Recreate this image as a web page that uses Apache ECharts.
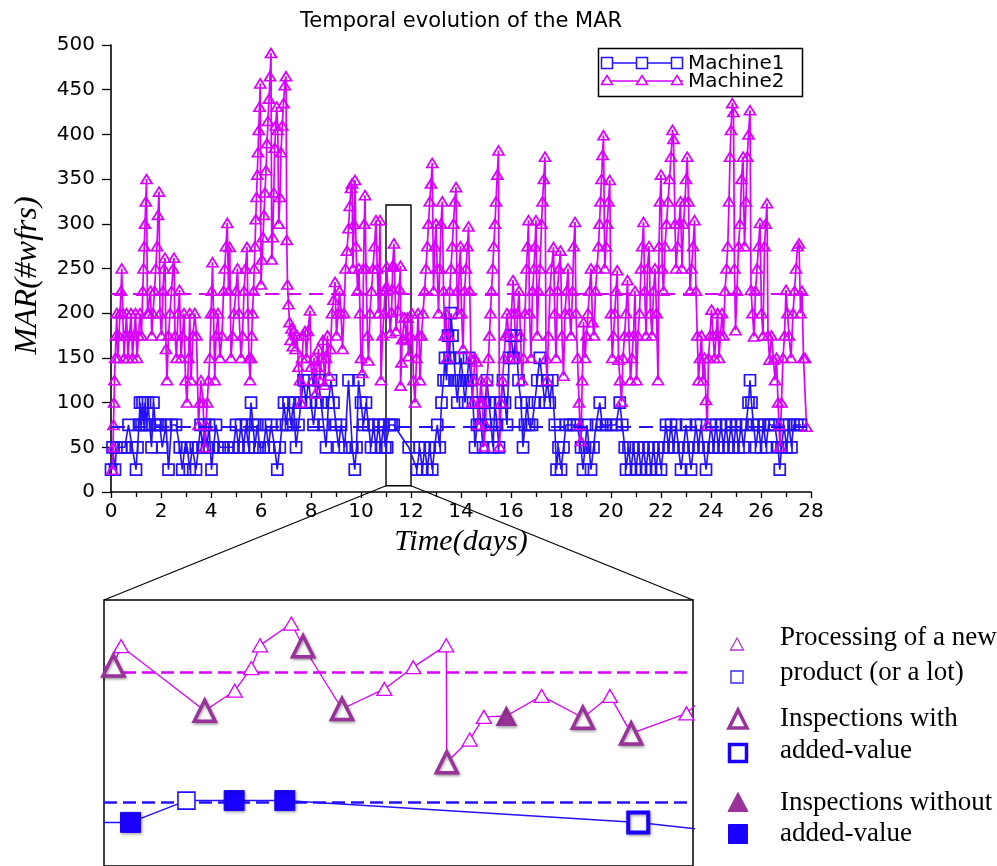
<!DOCTYPE html>
<html><head><meta charset="utf-8">
<script src="https://cdn.jsdelivr.net/npm/echarts@6/dist/echarts.min.js"></script>
<style>html,body{margin:0;padding:0;background:#fff}#c{width:997px;height:866px}</style>
</head><body><div id="c"></div>
<script>
// ---------------- DATA ----------------
const chartTitle = 'Temporal evolution of the MAR';
const seriesNames = ['Machine1', 'Machine2'];
const meanMachine1 = 73;
const meanMachine2 = 222;
const zoomWindow = [11, 12];      // days shown in the inset
const zoomValueRange = [7, 321];  // MAR range of the zoom rectangle
const insetValueRange = [0, 305];

// Machine2 (magenta triangles) [day, MAR]
const m2Part1 = [[0.05,25],[0.08,50],[0.1,75],[0.12,100],[0.14,125],[0.17,150],[0.2,175],[0.23,200],[0.27,150],[0.32,175],[0.36,200],[0.4,225],[0.43,250],[0.47,200],[0.52,150],[0.57,175],[0.62,200],[0.68,150],[0.74,175],[0.8,200],[0.86,150],[0.92,175],[0.98,200],[1.04,150],[1.1,175],[1.16,200],[1.22,175],[1.27,225],[1.3,250],[1.33,275],[1.36,300],[1.39,325],[1.42,350],[1.46,200],[1.52,200],[1.58,225],[1.63,175],[1.68,200],[1.74,225],[1.79,250],[1.84,275],[1.88,310],[1.92,336],[1.96,200],[2.02,175],[2.08,225],[2.12,250],[2.16,262],[2.2,160],[2.24,125],[2.3,175],[2.36,200],[2.42,225],[2.48,250],[2.52,262],[2.56,175],[2.62,150],[2.68,200],[2.74,226],[2.8,150],[2.86,175],[2.92,200],[2.98,125],[3.04,100],[3.1,150],[3.15,200],[3.2,125],[3.28,175],[3.35,200],[3.42,175],[3.5,75],[3.55,100],[3.6,125],[3.68,100],[3.75,50],[3.8,75],[3.85,100],[3.9,125],[3.95,150],[4.0,200],[4.03,225],[4.06,257],[4.1,200],[4.15,125],[4.2,175],[4.28,200],[4.36,150],[4.44,175],[4.5,225],[4.55,250],[4.6,275],[4.65,301],[4.7,225],[4.75,274],[4.8,150],[4.86,175],[4.92,200],[5.0,225],[5.06,250],[5.12,200],[5.2,150],[5.26,175],[5.32,225],[5.38,250],[5.44,274],[5.48,200],[5.52,150],[5.56,125]];
const m2Part2 = [[5.6,150],[5.63,175],[5.66,200],[5.7,225],[5.73,250],[5.76,275],[5.79,305],[5.82,330],[5.85,355],[5.88,380],[5.91,405],[5.94,431],[5.97,457],[6.0,232],[6.04,260],[6.08,285],[6.12,310],[6.16,335],[6.2,360],[6.24,390],[6.28,415],[6.32,440],[6.36,465],[6.4,491],[6.43,260],[6.47,285],[6.51,335],[6.55,385],[6.59,410],[6.63,431],[6.67,405],[6.71,300],[6.76,330],[6.8,380],[6.85,410],[6.9,435],[6.95,455],[7.0,465],[7.03,282],[7.06,232],[7.1,210],[7.14,190],[7.18,170],[7.22,183],[7.27,163],[7.32,180],[7.38,160],[7.44,175],[7.5,140],[7.56,125],[7.6,100],[7.64,150],[7.7,175],[7.76,180],[7.82,150],[7.88,180],[7.96,203],[8.0,140],[8.06,125],[8.12,150],[8.18,110],[8.24,140],[8.3,160],[8.36,125],[8.42,150],[8.48,170],[8.54,120],[8.6,150],[8.66,175],[8.72,130],[8.78,160],[8.84,200],[8.9,215],[8.96,235],[9.02,175],[9.08,200],[9.14,225],[9.2,200],[9.26,160],[9.32,200],[9.38,250],[9.44,270],[9.5,295],[9.55,320],[9.6,340],[9.64,345],[9.68,250],[9.72,300],[9.76,349],[9.8,275],[9.86,225],[9.92,250],[9.96,200],[10.0,150],[10.05,133],[10.1,250],[10.13,300],[10.16,332],[10.2,250],[10.26,175],[10.3,147],[10.36,200],[10.42,225],[10.48,250],[10.54,275],[10.6,304],[10.65,250],[10.7,200],[10.76,304],[10.8,125],[10.86,175],[10.92,200],[10.96,225]];
// Machine2 inside the zoom window
const m2InsetDays = [11.016,11.029,11.171,11.222,11.250,11.265,11.318,11.338,11.404,11.476,11.525,11.581,11.582,11.621,11.645,11.683,11.743,11.813,11.859,11.895,11.989];
const m2InsetVals = [230,252,178,201,227,253,278,252,180,203,228,253,119,145,171,172,195,170,195,152,175];
const m2InsetKind = ['big','small','big','small','small','small','small','big','big','small','small','small','big','small','small','filled','small','big','small','big','small'];
const m2Part3 = [[12.03,200],[12.1,125],[12.16,100],[12.22,150],[12.28,200],[12.32,175],[12.36,125],[12.42,175],[12.48,200],[12.54,225],[12.6,250],[12.65,275],[12.7,300],[12.75,325],[12.8,345],[12.85,368],[12.9,225],[12.95,275],[13.0,300],[13.05,250],[13.1,200],[13.15,250],[13.2,300],[13.25,325],[13.3,225],[13.35,175],[13.4,200],[13.45,150],[13.5,175],[13.55,225],[13.6,250],[13.65,275],[13.7,300],[13.75,325],[13.8,341],[13.84,225],[13.88,200],[13.93,250],[13.98,275],[14.02,200],[14.08,160],[14.14,225],[14.2,250],[14.26,275],[14.3,297],[14.35,225],[14.4,150],[14.46,100],[14.5,125],[14.56,150],[14.62,146],[14.68,75],[14.74,100],[14.8,125],[14.86,100],[14.92,51],[14.98,75],[15.04,125],[15.1,150],[15.14,175],[15.18,200],[15.22,225],[15.27,250],[15.31,275],[15.36,300],[15.4,325],[15.45,355],[15.5,382],[15.54,51],[15.6,100],[15.66,125],[15.72,150],[15.78,175],[15.84,200],[15.9,178],[15.96,150],[16.02,200],[16.08,237],[16.14,200],[16.2,150],[16.26,200],[16.32,225],[16.38,175],[16.44,125],[16.5,150],[16.56,200],[16.62,250],[16.66,275],[16.7,304],[16.74,200],[16.8,150],[16.86,225],[16.92,250],[16.96,275],[17.0,304],[17.05,175],[17.1,225],[17.16,250],[17.22,300],[17.26,325],[17.31,350],[17.36,375],[17.4,150],[17.44,125],[17.5,175],[17.56,225],[17.62,250],[17.7,274],[17.75,200],[17.8,150],[17.86,225],[17.92,250],[17.98,270],[18.04,175],[18.1,130],[18.16,200],[18.22,225],[18.28,250],[18.34,200],[18.4,175],[18.46,225],[18.51,275],[18.56,302],[18.6,200],[18.66,150],[18.72,100],[18.76,75],[18.8,57],[18.85,125],[18.9,190],[18.96,150],[19.02,175],[19.08,200],[19.14,225],[19.2,250],[19.26,190],[19.32,175]];
const m2Part4 = [[19.38,225],[19.44,250],[19.5,275],[19.54,300],[19.58,325],[19.62,350],[19.66,377],[19.7,399],[19.75,250],[19.8,275],[19.85,300],[19.9,325],[19.95,349],[20.0,200],[20.05,150],[20.1,175],[20.15,200],[20.2,225],[20.25,248],[20.3,148],[20.36,125],[20.42,101],[20.48,150],[20.54,175],[20.6,200],[20.66,237],[20.72,175],[20.78,125],[20.84,150],[20.9,175],[20.96,225],[21.02,125],[21.08,175],[21.14,200],[21.2,250],[21.25,275],[21.3,302],[21.35,225],[21.4,175],[21.46,250],[21.52,275],[21.58,200],[21.64,175],[21.7,225],[21.76,250],[21.82,200],[21.88,125],[21.92,275],[21.96,325],[22.0,355],[22.05,250],[22.1,225],[22.16,275],[22.22,300],[22.28,325],[22.34,350],[22.4,375],[22.46,405],[22.5,395],[22.56,300],[22.6,250],[22.66,275],[22.72,300],[22.78,325],[22.84,250],[22.9,300],[22.96,325],[23.0,350],[23.05,375],[23.1,325],[23.16,225],[23.22,250],[23.28,275],[23.34,304],[23.4,225],[23.45,175],[23.5,125],[23.56,150],[23.62,175],[23.68,125],[23.74,150],[23.8,103],[23.85,75],[23.9,150],[23.96,175],[24.02,204],[24.08,175],[24.14,150],[24.2,175],[24.26,200],[24.32,150],[24.38,175],[24.44,200],[24.5,175],[24.56,225],[24.62,250],[24.67,275],[24.72,325],[24.76,375],[24.8,405],[24.85,435],[24.9,425],[24.94,250],[24.98,181],[25.04,225],[25.1,275],[25.16,300],[25.22,350],[25.28,375],[25.34,275],[25.4,325],[25.45,375],[25.5,400],[25.56,427],[25.6,226],[25.66,200],[25.72,174],[25.78,225],[25.84,250],[25.9,275],[25.96,301],[26.02,200],[26.08,175],[26.14,275],[26.19,300],[26.24,323],[26.28,175],[26.34,148],[26.42,175],[26.5,148],[26.56,125],[26.62,150],[26.68,100],[26.72,75],[26.76,51],[26.82,100],[26.88,150],[26.94,175],[27.0,226],[27.06,200],[27.12,175],[27.2,150],[27.28,200],[27.34,225],[27.4,250],[27.46,275],[27.52,278],[27.58,200],[27.64,225],[27.7,150],[27.76,150],[27.82,73]];

// Machine1 (blue squares) [day, MAR]
const m1Part1 = [[0.0,25],[0.06,50],[0.16,25],[0.22,50],[0.4,50],[0.55,50],[0.7,75],[0.85,50],[1.0,25],[1.06,50],[1.12,75],[1.16,100],[1.22,75],[1.26,100],[1.32,75],[1.36,100],[1.42,75],[1.48,100],[1.55,75],[1.62,50],[1.7,100],[1.78,75],[1.86,75],[1.95,75],[2.05,50],[2.2,75],[2.3,25],[2.42,75],[2.6,75],[2.75,50],[2.85,25],[2.95,50],[3.05,50],[3.15,25],[3.25,50],[3.4,25],[3.5,50],[3.58,75],[3.66,50],[3.74,75],[3.84,50],[3.92,75],[4.02,25],[4.1,50],[4.2,75],[4.35,50],[4.5,50],[4.7,50],[4.9,50],[5.0,75],[5.1,50],[5.2,75],[5.3,50],[5.4,75],[5.5,50],[5.6,100],[5.68,75],[5.76,50],[5.85,75],[5.95,50],[6.1,50],[6.2,75],[6.3,50],[6.4,75],[6.55,50],[6.65,25],[6.75,50],[6.85,75],[6.92,100],[7.0,75],[7.1,100],[7.2,75],[7.3,100],[7.4,50],[7.5,75],[7.6,100],[7.7,125],[7.8,100],[7.9,125],[8.0,100],[8.1,75],[8.2,100],[8.3,125],[8.4,100],[8.5,75],[8.6,50],[8.7,100],[8.8,125],[8.9,100],[9.0,75],[9.1,50],[9.2,75],[9.35,50],[9.5,125],[9.65,50],[9.75,25],[9.82,50],[9.9,125],[10.0,100],[10.1,75],[10.2,100],[10.3,75],[10.4,50],[10.5,75],[10.6,50],[10.7,75],[10.8,50],[10.9,75],[10.97,50]];
const m1InsetDays = [11.045,11.140,11.221,11.307,11.907];
const m1InsetVals = [50,75,75,75,50];
const m1InsetKind = ['filled','small','filled','filled','big'];
const m1Part2 = [[12.24,25],[12.35,50],[12.45,25],[12.55,50],[12.65,25],[12.75,50],[12.85,25],[12.95,50],[13.05,75],[13.15,50],[13.22,100],[13.3,125],[13.36,150],[13.42,125],[13.48,175],[13.54,150],[13.6,200],[13.66,175],[13.72,150],[13.78,125],[13.85,100],[13.92,125],[14.0,150],[14.08,125],[14.16,100],[14.24,125],[14.32,150],[14.4,125],[14.48,100],[14.56,50],[14.64,75],[14.72,100],[14.8,75],[14.88,50],[14.96,100],[15.04,125],[15.12,100],[15.2,75],[15.28,50],[15.36,100],[15.44,75],[15.52,50],[15.6,100],[15.68,125],[15.76,100],[15.84,75],[15.92,150],[16.0,175],[16.1,150],[16.2,175],[16.3,125],[16.4,100],[16.48,50],[16.56,75],[16.64,100],[16.72,75],[16.84,75],[16.95,100],[17.05,125],[17.15,150],[17.25,125],[17.35,100],[17.45,125],[17.55,100],[17.65,125],[17.75,75],[17.82,25],[17.9,50],[18.0,25],[18.1,50],[18.2,75],[18.35,75],[18.5,75],[18.65,75],[18.8,50],[18.88,25],[18.96,50],[19.04,75],[19.12,50],[19.2,25],[19.3,50],[19.4,75],[19.55,100],[19.65,75],[19.8,75],[20.0,75],[20.2,75],[20.35,100],[20.45,75],[20.55,50],[20.6,25],[20.7,50],[20.8,25],[20.9,50],[21.0,25],[21.1,50],[21.2,25],[21.3,50],[21.4,25],[21.5,50],[21.6,25],[21.7,50],[21.8,25],[21.9,50],[22.0,25],[22.1,50],[22.2,75],[22.3,50],[22.4,75],[22.5,50],[22.6,75],[22.7,50],[22.8,25],[22.9,50],[23.0,75],[23.1,50],[23.2,25],[23.3,50],[23.4,75],[23.5,50],[23.6,75],[23.7,50],[23.8,25],[23.9,50],[24.0,75],[24.1,50],[24.2,75],[24.3,50],[24.4,75],[24.5,50],[24.6,75],[24.7,50],[24.8,75],[24.9,50],[25.0,75],[25.1,50],[25.2,75],[25.3,50],[25.4,75],[25.5,100],[25.56,125],[25.62,100],[25.7,75],[25.8,50],[25.9,75],[26.0,50],[26.1,75],[26.2,50],[26.3,75],[26.4,75],[26.55,75],[26.68,50],[26.75,25],[26.82,50],[26.92,75],[27.02,50],[27.12,75],[27.22,50],[27.3,75],[27.45,75],[27.6,75]];

const legendLines = [['Processing of a new','product (or a lot)'],['Inspections with','added-value'],['Inspections without','added-value']];

// ---------------- BUILD ----------------
const BLUE = '#2410ff', MAG = '#d800ff', PURPLE = '#993399', FBLUE = '#1a00ff';
const zip = (d, v) => d.map((x, i) => [x, v[i]]);
const m1All = [...m1Part1, ...zip(m1InsetDays, m1InsetVals), ...m1Part2];
const m2All = [...m2Part1, ...m2Part2, ...zip(m2InsetDays, m2InsetVals), ...m2Part3, ...m2Part4];

const shadow = {shadowBlur: 3, shadowColor: 'rgba(0,0,0,0.35)', shadowOffsetX: 1, shadowOffsetY: 1.5};
const triStyle = {
  small: {symbolSize: [15, 13], itemStyle: {color: '#fff', borderColor: MAG, borderWidth: 1.3}},
  big: {symbolSize: [21, 21], itemStyle: Object.assign({color: '#fff', borderColor: PURPLE, borderWidth: 3.5}, shadow)},
  filled: {symbolSize: [20, 19], itemStyle: Object.assign({color: PURPLE, borderColor: PURPLE, borderWidth: 1}, shadow)}
};
const sqStyle = {
  small: {symbolSize: 17, itemStyle: {color: '#fff', borderColor: BLUE, borderWidth: 1.6}},
  big: {symbolSize: 20, itemStyle: Object.assign({color: '#fff', borderColor: FBLUE, borderWidth: 4}, shadow)},
  filled: {symbolSize: 20, itemStyle: Object.assign({color: FBLUE, borderColor: FBLUE, borderWidth: 1}, shadow)}
};
function insetData(days, vals, kinds, styles, prev, next) {
  const out = [{value: prev, symbol: 'none'}];
  days.forEach((d, i) => {
    const s = styles[kinds[i]];
    out.push({value: [d, vals[i]], symbolSize: s.symbolSize, itemStyle: s.itemStyle});
  });
  out.push({value: next, symbol: 'none'});
  return out;
}
const m2InsetData = insetData(m2InsetDays, m2InsetVals, m2InsetKind, triStyle, m2Part2[m2Part2.length - 1], m2Part3[0]);
const m1InsetData = insetData(m1InsetDays, m1InsetVals, m1InsetKind, sqStyle, m1Part1[m1Part1.length - 1], m1Part2[0]);

const chart = echarts.init(document.getElementById('c'), null, {renderer: 'canvas'});
const tickFont = {fontFamily: 'DejaVu Sans', fontSize: 20, color: '#000'};

const option = {
  animation: false,
  backgroundColor: '#fff',
  title: {text: chartTitle, left: 295, top: 6, textStyle: {fontFamily: 'DejaVu Sans', fontSize: 21, fontWeight: 'normal', color: '#000'}},
  grid: [
    {left: 111, right: 186, top: 45, bottom: 374},
    {left: 104, top: 600, width: 589, height: 268, show: true, borderColor: '#000', borderWidth: 1.5, backgroundColor: '#fff'}
  ],
  xAxis: [
    {type: 'value', gridIndex: 0, min: 0, max: 28, interval: 2,
     name: 'Time(days)', nameLocation: 'middle', nameGap: 33,
     nameTextStyle: {fontFamily: 'Liberation Serif', fontStyle: 'italic', fontSize: 30, color: '#000'},
     axisLine: {onZero: false, lineStyle: {color: '#000', width: 1.6}},
     axisTick: {length: 6, lineStyle: {color: '#000', width: 1.3}},
     minorTick: {show: true, splitNumber: 2, length: 5, lineStyle: {color: '#000', width: 1.3}},
     axisLabel: Object.assign({margin: 10}, tickFont),
     splitLine: {show: false}},
    {type: 'value', gridIndex: 1, min: zoomWindow[0], max: zoomWindow[1], show: false}
  ],
  yAxis: [
    {type: 'value', gridIndex: 0, min: 0, max: 500, interval: 50,
     name: 'MAR(#wfrs)', nameLocation: 'middle', nameGap: 67, nameRotate: 90,
     nameTextStyle: {fontFamily: 'Liberation Serif', fontStyle: 'italic', fontSize: 32, color: '#000', padding: [0, 14, 0, 0]},
     axisLine: {show: true, lineStyle: {color: '#000', width: 1.6}},
     axisTick: {show: true, length: 9, lineStyle: {color: '#000', width: 1.3}},
     axisLabel: Object.assign({margin: 16}, tickFont),
     splitLine: {show: false}},
    {type: 'value', gridIndex: 1, min: insetValueRange[0], max: insetValueRange[1], show: false}
  ],
  series: [
    {name: seriesNames[0], type: 'line', xAxisIndex: 0, yAxisIndex: 0, data: m1All,
     symbol: 'rect', symbolSize: 11, showAllSymbol: true,
     lineStyle: {color: BLUE, width: 1.6}, itemStyle: {color: 'rgba(255,255,255,0)', borderColor: BLUE, borderWidth: 1.7},
     markLine: {silent: true, symbol: 'none', label: {show: false},
       lineStyle: {color: BLUE, type: [14, 8], width: 2}, data: [{yAxis: meanMachine1}]},
     markArea: {silent: true, itemStyle: {color: 'rgba(0,0,0,0)', borderColor: '#000', borderWidth: 1.4},
       data: [[{xAxis: zoomWindow[0], yAxis: zoomValueRange[0]}, {xAxis: zoomWindow[1], yAxis: zoomValueRange[1]}]]}},
    {name: seriesNames[1], type: 'line', xAxisIndex: 0, yAxisIndex: 0, data: m2All,
     symbol: 'triangle', symbolSize: [11, 9], showAllSymbol: true,
     lineStyle: {color: MAG, width: 1.7}, itemStyle: {color: 'rgba(255,255,255,0)', borderColor: MAG, borderWidth: 1.7},
     markLine: {silent: true, symbol: 'none', label: {show: false},
       lineStyle: {color: MAG, type: [14, 8], width: 2}, data: [{yAxis: meanMachine2}]}},
    {name: 'inset1', type: 'line', xAxisIndex: 1, yAxisIndex: 1, data: m1InsetData, clip: true, z: 5,
     symbol: 'rect', lineStyle: {color: BLUE, width: 1.5},
     markLine: {silent: true, symbol: 'none', label: {show: false},
       lineStyle: {color: BLUE, type: [13, 6], width: 2.5}, data: [{yAxis: meanMachine1}]}},
    {name: 'inset2', type: 'line', xAxisIndex: 1, yAxisIndex: 1, data: m2InsetData, clip: true, z: 5,
     symbol: 'triangle', lineStyle: {color: MAG, width: 1.3},
     markLine: {silent: true, symbol: 'none', label: {show: false},
       lineStyle: {color: MAG, type: [13, 6], width: 2.5}, data: [{yAxis: meanMachine2}]}}
  ]
};
chart.setOption(option);

// ---------------- DECORATIONS ----------------
const px0 = chart.convertToPixel({xAxisIndex: 0, yAxisIndex: 0}, [zoomWindow[0], zoomValueRange[0]]);
const px1 = chart.convertToPixel({xAxisIndex: 0, yAxisIndex: 0}, [zoomWindow[1], zoomValueRange[0]]);
const in0 = chart.convertToPixel({xAxisIndex: 1, yAxisIndex: 1}, [zoomWindow[0], insetValueRange[1]]);
const in1 = chart.convertToPixel({xAxisIndex: 1, yAxisIndex: 1}, [zoomWindow[1], insetValueRange[1]]);

function tri(cx, cy, w, h, style) {
  return {type: 'polygon', shape: {points: [[cx, cy - h / 2], [cx + w / 2, cy + h / 2], [cx - w / 2, cy + h / 2]]}, style: style, z: 100};
}
function sq(cx, cy, s, style) {
  return {type: 'rect', shape: {x: cx - s / 2, y: cy - s / 2, width: s, height: s}, style: style, z: 100};
}
function txt(x, y, t, font) {
  return {type: 'text', x: x, y: y, z: 100, style: {text: t, font: font, fill: '#000', align: 'left', verticalAlign: 'middle', textAlign: 'left', textVerticalAlign: 'middle'}};
}
const g = [];
// connector lines zoom rect -> inset
g.push({type: 'line', shape: {x1: px0[0], y1: px0[1], x2: in0[0], y2: in0[1]}, style: {stroke: '#000', lineWidth: 1.2}, z: 50});
g.push({type: 'line', shape: {x1: px1[0], y1: px1[1], x2: in1[0], y2: in1[1]}, style: {stroke: '#000', lineWidth: 1.2}, z: 50});
// main legend
g.push({type: 'rect', shape: {x: 598.5, y: 48.5, width: 204, height: 48}, style: {fill: '#fff', stroke: '#000', lineWidth: 1.5}, z: 99});
g.push({type: 'line', shape: {x1: 602, y1: 63, x2: 683, y2: 63}, style: {stroke: BLUE, lineWidth: 1.4}, z: 100});
g.push({type: 'line', shape: {x1: 602, y1: 81, x2: 683, y2: 81}, style: {stroke: MAG, lineWidth: 1.4}, z: 100});
[607, 642, 677].forEach(cx => {
  g.push(sq(cx, 63, 11, {fill: '#fff', stroke: BLUE, lineWidth: 1.5}));
  g.push(tri(cx, 80, 11, 9, {fill: '#fff', stroke: MAG, lineWidth: 1.5}));
});
g.push(txt(688, 64, seriesNames[0], '20px "DejaVu Sans"'));
g.push(txt(688, 82, seriesNames[1], '20px "DejaVu Sans"'));
// right legend
const LF = '27px "Liberation Serif"';
g.push(tri(737, 644, 13, 12, {fill: '#fff', stroke: '#b03ac8', lineWidth: 1.3}));
g.push(sq(737, 677, 12, {fill: '#fff', stroke: '#3a2aff', lineWidth: 1.4}));
g.push(tri(738, 719, 18, 18, {fill: '#fff', stroke: PURPLE, lineWidth: 3.5}));
g.push(sq(738, 753, 17, {fill: '#fff', stroke: FBLUE, lineWidth: 3.5}));
g.push(tri(738, 802, 20, 19, {fill: PURPLE, stroke: PURPLE, lineWidth: 1}));
g.push(sq(738, 834, 19, {fill: FBLUE, stroke: FBLUE, lineWidth: 1}));
g.push(txt(780, 638, legendLines[0][0], LF));
g.push(txt(780, 673, legendLines[0][1], LF));
g.push(txt(780, 719, legendLines[1][0], LF));
g.push(txt(780, 751, legendLines[1][1], LF));
g.push(txt(780, 803, legendLines[2][0], LF));
g.push(txt(780, 834, legendLines[2][1], LF));
chart.setOption({graphic: g});
</script></body></html>
